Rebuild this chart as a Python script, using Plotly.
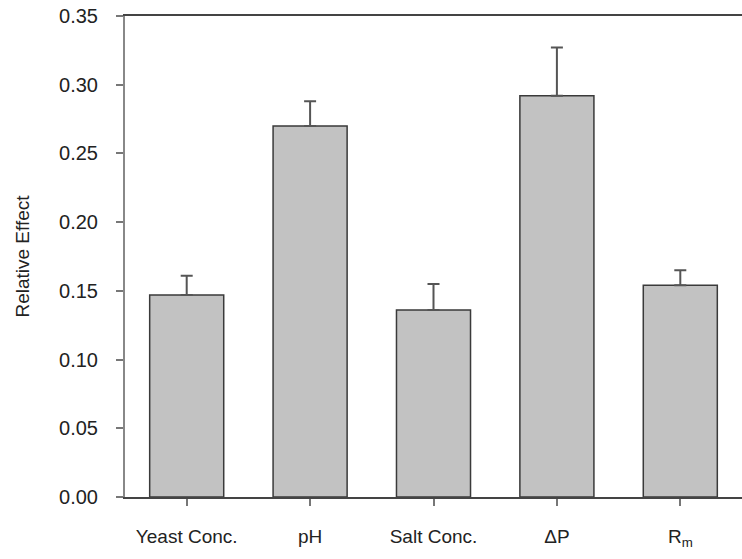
import plotly.graph_objects as go

categories = ["Yeast Conc.", "pH", "Salt Conc.", "\u0394P", "R<sub>m</sub>"]
values = [0.147, 0.270, 0.136, 0.292, 0.154]
err_upper = [0.014, 0.018, 0.019, 0.035, 0.011]
y_ticks = [0.00, 0.05, 0.10, 0.15, 0.20, 0.25, 0.30, 0.35]

fig = go.Figure()
fig.add_trace(go.Bar(
    x=list(range(len(categories))),
    y=values,
    width=0.6,
    marker=dict(color="#c2c2c2", line=dict(color="#3a3a3a", width=1.5)),
    error_y=dict(type="data", symmetric=False, array=err_upper,
                 arrayminus=[0] * len(values),
                 color="#555555", thickness=2, width=6),
))

fig.update_layout(
    width=742, height=559,
    margin=dict(l=125, r=0, t=16, b=62, autoexpand=False),
    paper_bgcolor="white", plot_bgcolor="white",
    font=dict(family="Liberation Sans, Arial, sans-serif", size=19, color="#222222"),
    showlegend=False,
    bargap=0.4,
)
fig.update_xaxes(
    range=[-0.5, 4.5],
    tickmode="array", tickvals=list(range(len(categories))), ticktext=categories,
    showline=True, linecolor="#444444", linewidth=2, mirror=True,
    ticks="outside", ticklen=7, tickcolor="#777777", tickwidth=1.5,
    showgrid=False, zeroline=False,
    tickfont=dict(size=19),
    ticklabelstandoff=14,
)
fig.update_yaxes(
    range=[0, 0.35],
    tickmode="array", tickvals=y_ticks, tickformat=".2f",
    showline=True, linecolor="#888888", linewidth=2,
    ticks="outside", ticklen=7, tickcolor="#777777", tickwidth=1.5,
    showgrid=False, zeroline=False,
    title=dict(text="Relative Effect", font=dict(size=19), standoff=24),
    tickfont=dict(size=20),
    ticklabelstandoff=14,
    ticklabeloverflow="allow",
)

# remove the default page margin so the figure fills the window exactly
fig.write_html("out.html",
               config={"displayModeBar": False},
               post_script="document.body.style.margin='0';document.body.style.overflow='hidden';")
